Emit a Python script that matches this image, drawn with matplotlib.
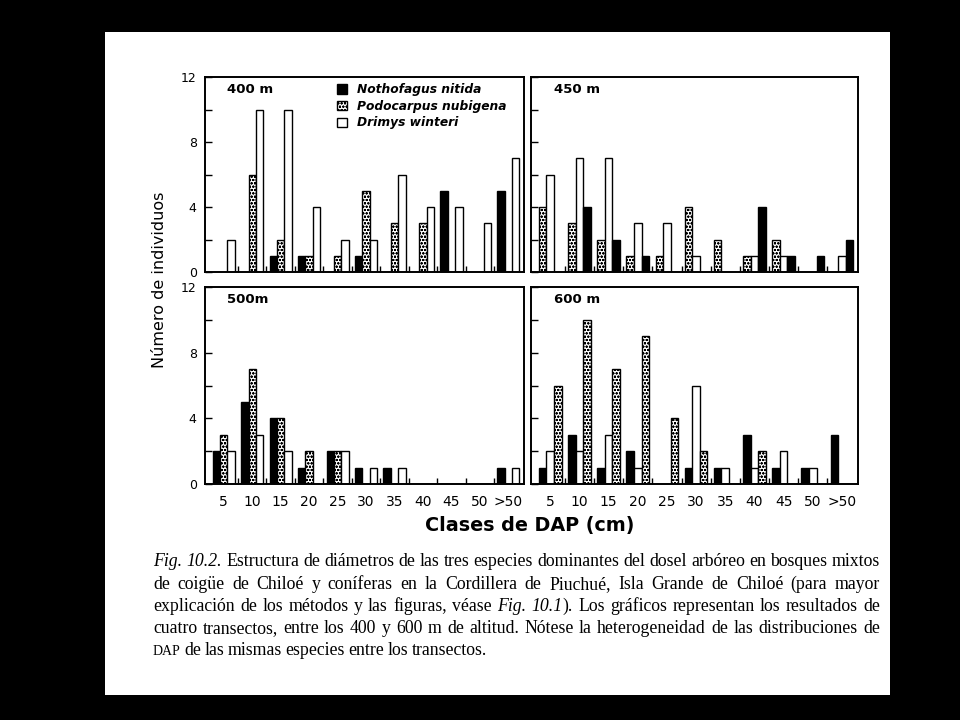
import numpy as np
import matplotlib
matplotlib.use('Agg')
import matplotlib.pyplot as plt
from matplotlib.patches import Rectangle, Patch

plt.rcParams['font.family'] = ['DejaVu Sans']
plt.rcParams['hatch.linewidth'] = 0.6

# data: number of trees per diameter class (DAP, cm)
classes = ['5', '10', '15', '20', '25', '30', '35', '40', '45', '50', '>50']
species = ['Nothofagus nitida', 'Podocarpus nubigena', 'Drimys winteri']

n400 = [0, 0, 1, 1, 0, 1, 0, 0, 5, 0, 5]
p400 = [0, 6, 2, 1, 1, 5, 3, 3, 0, 0, 0]
d400 = [2, 10, 10, 4, 2, 2, 6, 4, 4, 3, 7]

n450 = [0, 4, 2, 1, 0, 0, 0, 4, 1, 1, 2]
p450 = [4, 3, 2, 1, 1, 4, 2, 1, 2, 0, 0]
d450 = [6, 7, 7, 3, 3, 1, 0, 1, 1, 0, 1]

n500 = [2, 5, 4, 1, 2, 1, 1, 0, 0, 0, 1]
p500 = [3, 7, 4, 2, 2, 0, 0, 0, 0, 0, 0]
d500 = [2, 3, 2, 0, 2, 1, 1, 0, 0, 0, 1]

n600 = [1, 3, 1, 2, 0, 1, 1, 3, 1, 1, 3]
p600 = [6, 10, 7, 9, 4, 2, 0, 2, 0, 0, 0]
d600 = [2, 2, 3, 1, 0, 6, 1, 1, 2, 1, 0]

# bar style per species
style = {
    'N': dict(facecolor='black', edgecolor='black', hatch=None),
    'P': dict(facecolor='white', edgecolor='black', hatch='ooooo'),
    'D': dict(facecolor='white', edgecolor='black', hatch=None),
}

panels = [
    ('400 m', {'N': n400, 'P': p400, 'D': d400}, 'NPD', [205, 77, 524, 272]),
    ('450 m', {'N': n450, 'P': p450, 'D': d450}, 'PDN', [531, 77, 858, 272]),
    ('500m', {'N': n500, 'P': p500, 'D': d500}, 'NPD', [205, 287, 524, 484]),
    ('600 m', {'N': n600, 'P': p600, 'D': d600}, 'NDP', [531, 287, 858, 484]),
]

W, H = 960, 720
fig = plt.figure(figsize=(9.6, 7.2), dpi=100, facecolor='black')
fig.patches.append(Rectangle((105 / W, 1 - 695 / H), 785 / W, 663 / H,
                             transform=fig.transFigure, facecolor='white',
                             edgecolor='none', zorder=-10))

x = np.arange(len(classes))
bw = 0.26
axes = []
for k, (label, vals, order, box) in enumerate(panels):
    x0, y0, x1, y1 = box
    ax = fig.add_axes([x0 / W, 1 - y1 / H, (x1 - x0) / W, (y1 - y0) / H])
    ax.set_zorder(5)
    for j, sp in enumerate(order):
        st = style[sp]
        ax.bar(x + (j - 1) * bw, vals[sp], width=bw, facecolor=st['facecolor'],
               edgecolor=st['edgecolor'], hatch=st['hatch'], linewidth=1.0)
    ax.set_xlim(-0.66, 10.55)
    ax.set_ylim(0, 12)
    ax.set_yticks([0, 4, 8, 12])
    ax.set_yticks([2, 6, 10], minor=True)
    ax.set_xticks(x)
    ax.set_xticks(x[:-1] + 0.5, minor=True)
    ax.tick_params(axis='y', which='both', direction='in', length=5, width=1,
                   labelsize=9, pad=6)
    ax.tick_params(axis='x', which='major', length=0, labelsize=10, pad=8)
    ax.tick_params(axis='x', which='minor', direction='in', length=4, width=1)
    if k % 2 == 1:
        ax.set_yticklabels([])
    if k < 2:
        ax.set_xticklabels([])
    else:
        ax.set_xticklabels(classes)
    for s in ax.spines.values():
        s.set_linewidth(1.4)
    ax.text(0.07, 0.97, label, transform=ax.transAxes, fontsize=9.5,
            fontweight='bold', va='top', ha='left')
    axes.append(ax)

handles = [Patch(facecolor=style[s]['facecolor'], edgecolor='black',
                 hatch=style[s]['hatch'], linewidth=1) for s in 'NPD']
axes[0].legend(handles, species, loc='upper left', bbox_to_anchor=(0.38, 1.025),
               frameon=False, handlelength=0.8, handleheight=0.8,
               handletextpad=0.8, labelspacing=0.3,
               prop={'style': 'italic', 'size': 8.8, 'weight': 'bold'})

fig.text(160 / W, 1 - 280 / H, 'Número de individuos', rotation=90,
         ha='center', va='center', fontsize=11.5)
fig.text(530 / W, 1 - 525 / H, 'Clases de DAP (cm)', ha='center',
         va='center', fontsize=13.8, fontweight='bold')

# caption, justified
cap = [
    [('Fig. 10.2.', 'italic'), ('Estructura de diámetros de las tres especies dominantes del dosel arbóreo en bosques mixtos', 'normal')],
    [('de coigüe de Chiloé y coníferas en la Cordillera de Piuchué, Isla Grande de Chiloé (para mayor', 'normal')],
    [('explicación de los métodos y las figuras, véase', 'normal'), ('Fig. 10.1', 'italic'), ('). Los gráficos representan los resultados de', 'normal')],
    [('cuatro transectos, entre los 400 y 600 m de altitud. Nótese la heterogeneidad de las distribuciones de', 'normal')],
    [('DAP', 'small'), ('de las mismas especies entre los transectos.', 'normal')],
]
line_y = [566, 589, 611, 633, 655]
left, right = 153, 880
fig.canvas.draw()
rend = fig.canvas.get_renderer()
for li, (segs, yy) in enumerate(zip(cap, line_y)):
    words = []
    for txt, sty in segs:
        parts = txt.split(' ')
        for p_i, w in enumerate(parts):
            if w == '':
                continue
            glue = (p_i == 0 and txt.startswith(')'))
            words.append([w, sty, glue])
    objs = []
    for w, sty, glue in words:
        kw = dict(family='Liberation Serif', fontsize=12.8, va='baseline', ha='left')
        if sty == 'italic':
            kw['style'] = 'italic'
        if sty == 'small':
            kw['fontsize'] = 10
        t = fig.text(0, 1 - yy / H, w, **kw)
        objs.append((t, t.get_window_extent(rend).width, glue))
    total = sum(wd for _, wd, _ in objs)
    ngaps = sum(1 for _, _, g in objs[1:] if not g)
    if li < len(cap) - 1 and ngaps > 0:
        gap = (right - left - total) / ngaps
    else:
        gap = 3.5
    xpos = left
    for i, (t, wd, glue) in enumerate(objs):
        if i > 0 and not glue:
            xpos += gap
        t.set_x(xpos / W)
        xpos += wd

fig.savefig('out.png', dpi=100, facecolor=fig.get_facecolor())
